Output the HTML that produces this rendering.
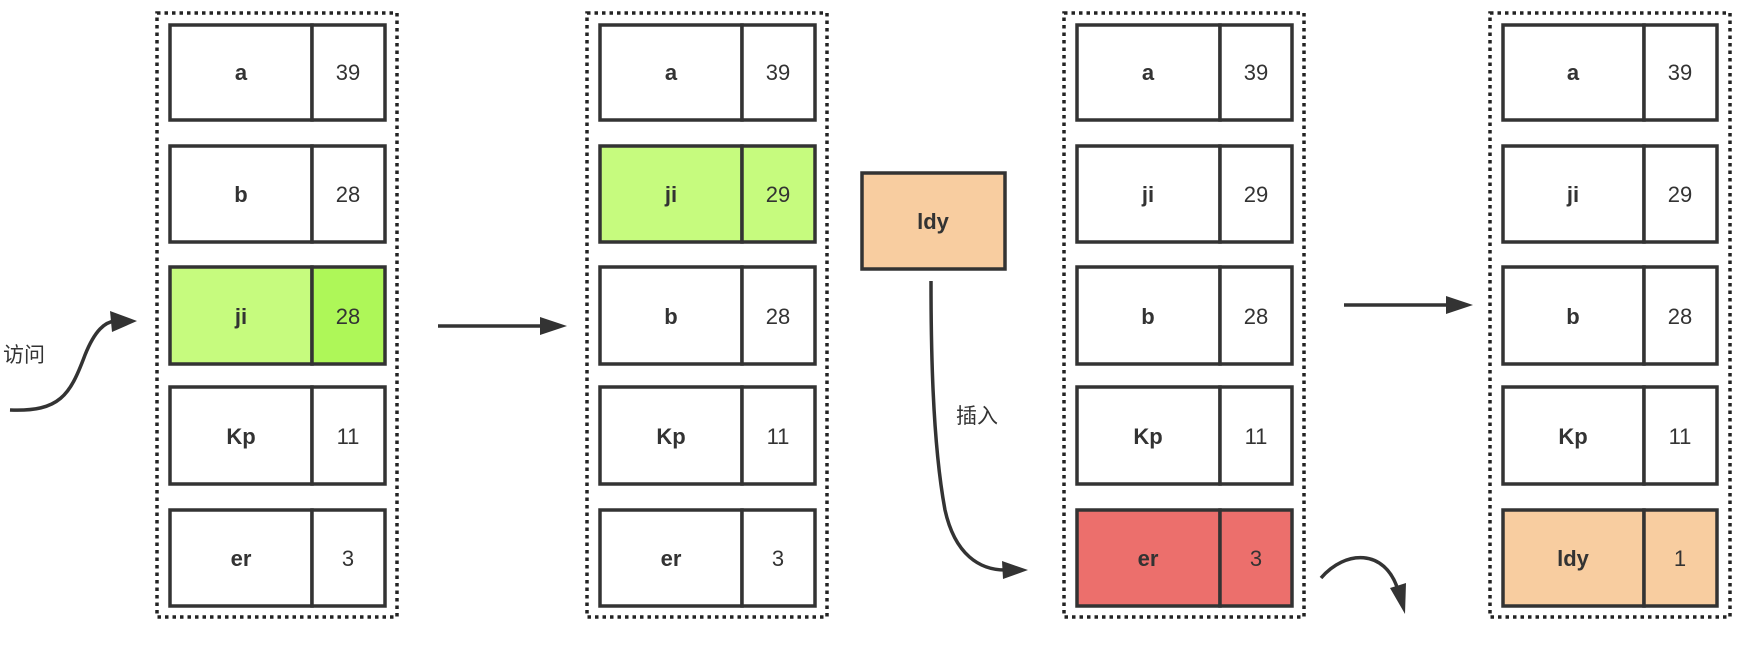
<!DOCTYPE html>
<html><head><meta charset="utf-8"><style>
body{margin:0;background:#fff;}
svg text{font-family:"Liberation Sans","Noto Sans CJK SC",sans-serif;font-size:22px;fill:#333;}
</style></head><body>
<svg width="1760" height="640" viewBox="0 0 1760 640" xmlns="http://www.w3.org/2000/svg">
<defs>
<marker id="ah" markerWidth="10" markerHeight="8" refX="9" refY="4" orient="auto" markerUnits="userSpaceOnUse" viewBox="0 0 10 8">
</marker>
</defs>
<g stroke="#222" stroke-width="3.5" fill="none" stroke-dasharray="3.5 4">
<rect x="157" y="13" width="240" height="604"/>
<rect x="587" y="13" width="240" height="604"/>
<rect x="1064" y="13" width="240" height="604"/>
<rect x="1490" y="13" width="240" height="604"/>
</g>
<g id="rows" stroke="#333" stroke-width="3.5">
<!-- column 1 -->
<rect x="170" y="25" width="142" height="95" fill="#fff"/><rect x="312" y="25" width="73" height="95" fill="#fff"/>
<rect x="170" y="146" width="142" height="96" fill="#fff"/><rect x="312" y="146" width="73" height="96" fill="#fff"/>
<rect x="170" y="267" width="142" height="97" fill="#c6fb7e"/><rect x="312" y="267" width="73" height="97" fill="#aef758"/>
<rect x="170" y="387" width="142" height="97" fill="#fff"/><rect x="312" y="387" width="73" height="97" fill="#fff"/>
<rect x="170" y="510" width="142" height="96" fill="#fff"/><rect x="312" y="510" width="73" height="96" fill="#fff"/>
<!-- column 2 -->
<rect x="600" y="25" width="142" height="95" fill="#fff"/><rect x="742" y="25" width="73" height="95" fill="#fff"/>
<rect x="600" y="146" width="142" height="96" fill="#c6fb7e"/><rect x="742" y="146" width="73" height="96" fill="#c6fb7e"/>
<rect x="600" y="267" width="142" height="97" fill="#fff"/><rect x="742" y="267" width="73" height="97" fill="#fff"/>
<rect x="600" y="387" width="142" height="97" fill="#fff"/><rect x="742" y="387" width="73" height="97" fill="#fff"/>
<rect x="600" y="510" width="142" height="96" fill="#fff"/><rect x="742" y="510" width="73" height="96" fill="#fff"/>
<!-- column 3 -->
<rect x="1077" y="25" width="143" height="95" fill="#fff"/><rect x="1220" y="25" width="72" height="95" fill="#fff"/>
<rect x="1077" y="146" width="143" height="96" fill="#fff"/><rect x="1220" y="146" width="72" height="96" fill="#fff"/>
<rect x="1077" y="267" width="143" height="97" fill="#fff"/><rect x="1220" y="267" width="72" height="97" fill="#fff"/>
<rect x="1077" y="387" width="143" height="97" fill="#fff"/><rect x="1220" y="387" width="72" height="97" fill="#fff"/>
<rect x="1077" y="510" width="143" height="96" fill="#ec6f6c"/><rect x="1220" y="510" width="72" height="96" fill="#ec6f6c"/>
<!-- column 4 -->
<rect x="1503" y="25" width="141" height="95" fill="#fff"/><rect x="1644" y="25" width="73" height="95" fill="#fff"/>
<rect x="1503" y="146" width="141" height="96" fill="#fff"/><rect x="1644" y="146" width="73" height="96" fill="#fff"/>
<rect x="1503" y="267" width="141" height="97" fill="#fff"/><rect x="1644" y="267" width="73" height="97" fill="#fff"/>
<rect x="1503" y="387" width="141" height="97" fill="#fff"/><rect x="1644" y="387" width="73" height="97" fill="#fff"/>
<rect x="1503" y="510" width="141" height="96" fill="#f8cda0"/><rect x="1644" y="510" width="73" height="96" fill="#f8cda0"/>
<!-- ldy -->
<rect x="862" y="173" width="143" height="96" fill="#f8cda0"/>
</g>
<g text-anchor="middle" font-weight="bold">
<text x="241" y="80" font-weight="bold">a</text><text x="241" y="202" font-weight="bold">b</text><text x="241" y="324" font-weight="bold">ji</text><text x="241" y="444" font-weight="bold">Kp</text><text x="241" y="566" font-weight="bold">er</text>
<text x="671" y="80" font-weight="bold">a</text><text x="671" y="202" font-weight="bold">ji</text><text x="671" y="324" font-weight="bold">b</text><text x="671" y="444" font-weight="bold">Kp</text><text x="671" y="566" font-weight="bold">er</text>
<text x="1148" y="80" font-weight="bold">a</text><text x="1148" y="202" font-weight="bold">ji</text><text x="1148" y="324" font-weight="bold">b</text><text x="1148" y="444" font-weight="bold">Kp</text><text x="1148" y="566" font-weight="bold">er</text>
<text x="1573" y="80" font-weight="bold">a</text><text x="1573" y="202" font-weight="bold">ji</text><text x="1573" y="324" font-weight="bold">b</text><text x="1573" y="444" font-weight="bold">Kp</text><text x="1573" y="566" font-weight="bold">ldy</text>
<text x="933" y="229" font-weight="bold">ldy</text>
</g>
<g text-anchor="middle">
<text x="348" y="80">39</text><text x="348" y="202">28</text><text x="348" y="324">28</text><text x="348" y="444">11</text><text x="348" y="566">3</text>
<text x="778" y="80">39</text><text x="778" y="202">29</text><text x="778" y="324">28</text><text x="778" y="444">11</text><text x="778" y="566">3</text>
<text x="1256" y="80">39</text><text x="1256" y="202">29</text><text x="1256" y="324">28</text><text x="1256" y="444">11</text><text x="1256" y="566">3</text>
<text x="1680" y="80">39</text><text x="1680" y="202">29</text><text x="1680" y="324">28</text><text x="1680" y="444">11</text><text x="1680" y="566">1</text>
</g>
<text x="3" y="362" style="font-size:21px">访问</text>
<text x="956" y="423" style="font-size:21px">插入</text>
<g stroke="#333" stroke-width="3.5" fill="none">
<path d="M10 410 C60 412 70 395 85 355 C95 330 105 322 115 321"/>
<line x1="438" y1="326" x2="545" y2="326"/>
<line x1="1344" y1="305" x2="1450" y2="305"/>
<path d="M931 281 C931 340 932 440 945 510 C955 555 980 570 1005 570"/>
<path d="M1321 578 C1345 550 1385 548 1398 590"/>
</g>
<g fill="#333">
<polygon points="137,321 110,311 112,332"/>
<polygon points="567,326 540,317 540,335"/>
<polygon points="1473,305 1446,296 1446,314"/>
<polygon points="1028,570 1002,561 1003,579"/>
<polygon points="1405,614 1390,588 1406,583"/>
</g>
</svg>
</body></html>
